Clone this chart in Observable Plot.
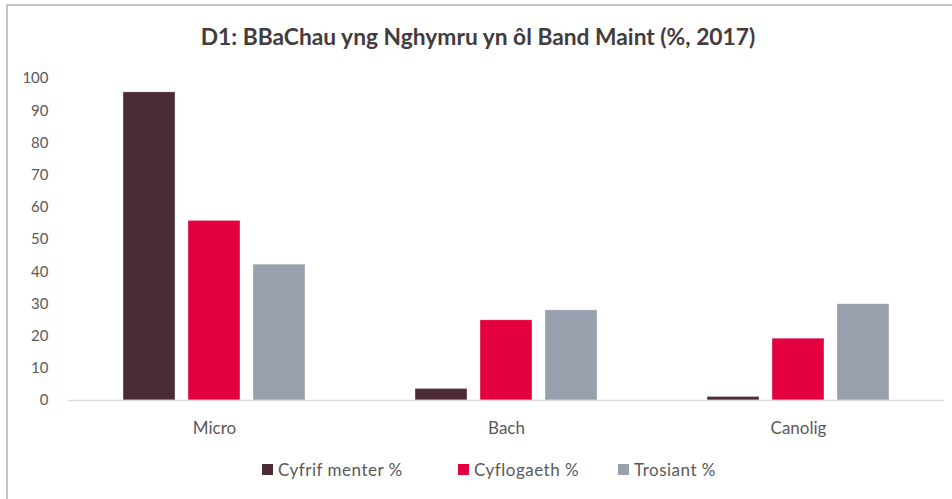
<!DOCTYPE html>
<html><head><meta charset="utf-8">
<script src="https://cdn.jsdelivr.net/npm/d3@7"></script>
<script src="https://cdn.jsdelivr.net/npm/@observablehq/plot@0.6"></script>
<style>
html,body{margin:0;padding:0;background:#fff;}
body{width:952px;height:499px;position:relative;overflow:hidden;font-family:Lato,"Open Sans",sans-serif;}
#frame{position:absolute;left:6px;top:4px;width:1000px;height:600px;border-top:2px solid #c3c3c3;border-left:2px solid #c3c3c3;box-sizing:border-box;}
#title{position:absolute;left:0;top:0;width:952px;height:74px;line-height:74px;text-align:center;font-weight:bold;font-size:20px;color:#433b3e;}
#title span{position:relative;left:2px;}
#chart{position:absolute;left:0;top:60px;}
#legend{position:absolute;top:458px;left:0;width:952px;height:22px;}
.item{position:absolute;top:0;display:flex;align-items:center;height:22px;font-size:17px;letter-spacing:0.5px;color:#595959;white-space:nowrap;}
.sw{width:11px;height:11px;margin-right:5px;}
</style></head>
<body>
<div id="frame"></div>
<div id="title"><span>D1: BBaChau yng Nghymru yn ôl Band Maint (%, 2017)</span></div>
<div id="chart"></div>
<div id="legend"></div>
<script>
const categories = ["Micro", "Bach", "Canolig"];
const seriesNames = ["Cyfrif menter %", "Cyflogaeth %", "Trosiant %"];
const cyfrifMenter = [95.7, 3.6, 1.1];
const cyflogaeth = [55.8, 24.9, 19.2];
const trosiant = [42.2, 28.0, 29.9];
const yTicks = [0, 10, 20, 30, 40, 50, 60, 70, 80, 90, 100];
const colors = ["#4b2b37", "#e4003f", "#989fad"];

const seriesValues = [cyfrifMenter, cyflogaeth, trosiant];
const rows = [];
categories.forEach((c, i) => seriesNames.forEach((s, j) => rows.push({category: c, series: s, value: seriesValues[j][i]})));

const chart = Plot.plot({
  width: 952, height: 390,
  marginTop: 18, marginBottom: 50, marginLeft: 68, marginRight: 8,
  style: {fontFamily: "Lato, 'Open Sans', sans-serif", fontSize: "15px", color: "#595959", background: "transparent"},
  fx: {domain: categories, padding: 0, label: null},
  x: {domain: seriesNames, axis: null, paddingInner: 0.206, paddingOuter: 0.83},
  y: {domain: [0, 100], label: null},
  color: {domain: seriesNames, range: colors},
  marks: [
    Plot.barY(rows, {fx: "category", x: "series", y: "value", fill: "series", stroke: "#ffffff", strokeWidth: 0.6, strokeOpacity: 0.6}),
    Plot.ruleY([0], {stroke: "#d9d9d9", strokeWidth: 1.5}),
    Plot.axisY(yTicks, {tickSize: 0, tickPadding: 20, label: null, fontSize: 15}),
    Plot.axisFx({anchor: "bottom", tickSize: 0, tickPadding: 21, label: null, fontSize: 17})
  ]
});
document.getElementById("chart").appendChild(chart);

// fit title width
const span = document.querySelector("#title span");
const w = span.getBoundingClientRect().width;
span.style.fontSize = (20 * 555 / w) + "px";

// legend
const legendLeft = [262, 458, 618];
const legend = document.getElementById("legend");
seriesNames.forEach((s, j) => {
  const it = document.createElement("div");
  it.className = "item";
  it.style.left = legendLeft[j] + "px";
  const sw = document.createElement("div");
  sw.className = "sw";
  sw.style.background = colors[j];
  it.appendChild(sw);
  const t = document.createElement("span");
  t.textContent = s;
  it.appendChild(t);
  legend.appendChild(it);
});
</script>
</body></html>
